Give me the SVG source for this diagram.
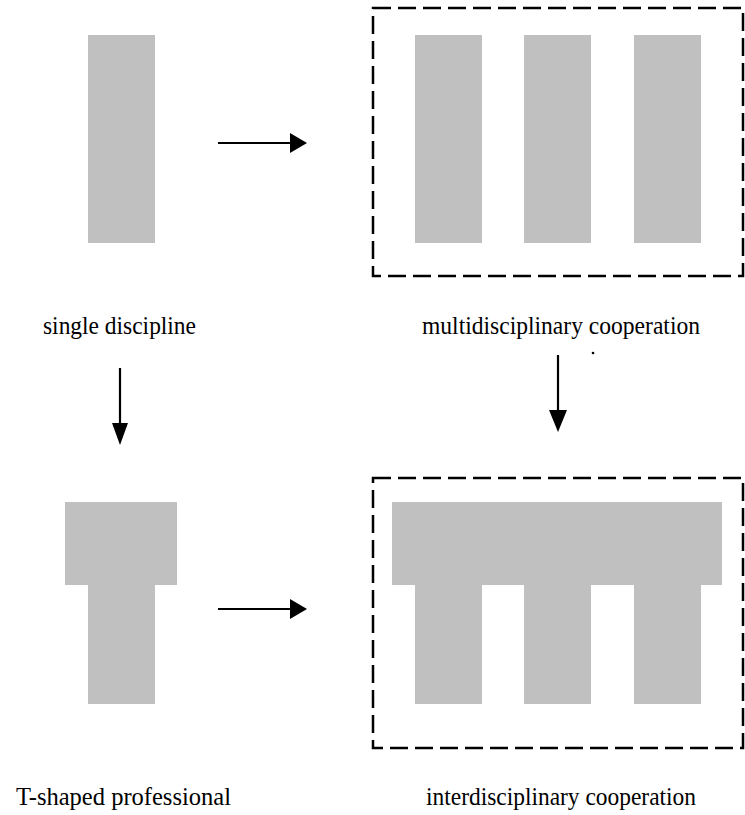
<svg xmlns="http://www.w3.org/2000/svg" width="745" height="815" viewBox="0 0 745 815">
  <style>
    .bar { fill: #c0c0c0; }
    .frame { fill: none; stroke: #000; stroke-width: 2.5; stroke-dasharray: 18 7; }
    .label { font-family: 'Liberation Serif', 'DejaVu Serif', 'Times New Roman', serif; font-size: 25px; fill: #000; }
    .line { stroke: #000; stroke-width: 2.2; fill: none; }
    .head { fill: #000; }
  </style>
  <rect width="745" height="815" fill="#fff"/>

  <g id="single-discipline">
    <rect class="bar" x="88" y="35" width="67" height="208"/>
    <text class="label" x="43" y="334" textLength="153" lengthAdjust="spacingAndGlyphs">single discipline</text>
  </g>

  <g id="multidisciplinary-cooperation">
    <rect class="frame" x="373" y="8" width="370" height="268"/>
    <rect class="bar" x="415" y="35" width="67" height="208"/>
    <rect class="bar" x="524" y="35" width="67" height="208"/>
    <rect class="bar" x="634" y="35" width="67" height="208"/>
    <text class="label" x="422" y="334" textLength="278" lengthAdjust="spacingAndGlyphs">multidisciplinary cooperation</text>
    <circle cx="593" cy="353" r="1.3" fill="#000"/>
  </g>

  <g id="t-shaped-professional">
    <rect class="bar" x="65" y="502" width="112" height="83"/>
    <rect class="bar" x="88" y="584" width="67" height="120"/>
    <text class="label" x="16" y="805" textLength="215" lengthAdjust="spacingAndGlyphs">T-shaped professional</text>
  </g>

  <g id="interdisciplinary-cooperation">
    <rect class="frame" x="373" y="478" width="370" height="270"/>
    <rect class="bar" x="392" y="502" width="330" height="83"/>
    <rect class="bar" x="415" y="584" width="67" height="120"/>
    <rect class="bar" x="524" y="584" width="67" height="120"/>
    <rect class="bar" x="634" y="584" width="67" height="120"/>
    <text class="label" x="426" y="805" textLength="270" lengthAdjust="spacingAndGlyphs">interdisciplinary cooperation</text>
  </g>

  <g id="connectors">
    <line class="line" x1="218" y1="143" x2="292" y2="143"/>
    <polygon class="head" points="290,133 307,143 290,153"/>
    <line class="line" x1="218" y1="609" x2="292" y2="609"/>
    <polygon class="head" points="290,599 307,609 290,619"/>
    <line class="line" x1="120" y1="368" x2="120" y2="425"/>
    <polygon class="head" points="112,423 128,423 120,445"/>
    <line class="line" x1="558" y1="355" x2="558" y2="412"/>
    <polygon class="head" points="549,410 567,410 558,432"/>
  </g>
</svg>
